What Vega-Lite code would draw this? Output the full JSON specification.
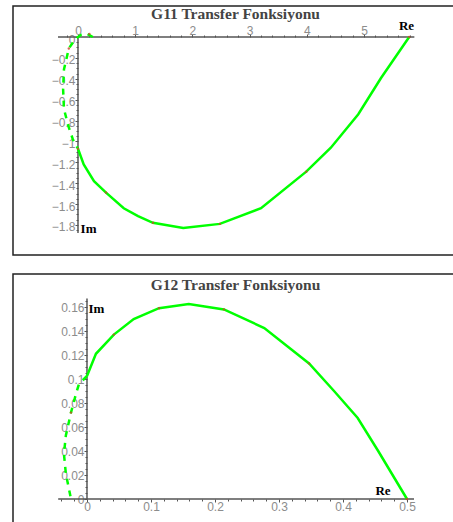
{
  "$schema": "https://vega.github.io/schema/vega-lite/v6.json",
  "padding": {"left": 12, "top": 5, "right": 0, "bottom": 0},
  "bounds": "flush",
  "spacing": 19,
  "config": {
    "view": {"stroke": "#222222", "strokeWidth": 1.5},
    "axis": {"grid": false, "domain": false, "labelFont": "Liberation Sans", "labelFontSize": 12, "labelColor": "#8c8c8c", "tickColor": "#555555", "title": null, "labelOverlap": false, "labelBound": false, "labelFlush": false},
    "title": {"font": "Liberation Serif", "fontSize": 15.5, "fontWeight": "bold", "color": "#444444", "anchor": "middle", "baseline": "alphabetic", "frame": "group"}
  },
  "vconcat": [
    {
      "width": 445,
      "height": 249,
      "title": {"text": "G11 Transfer Fonksiyonu", "offset": -16},
      "data": {"values": [
        {"part": "solid", "o": 1, "re": 0, "im": -1.07},
        {"part": "solid", "o": 2, "re": 0.10, "im": -1.22},
        {"part": "solid", "o": 3, "re": 0.28, "im": -1.38},
        {"part": "solid", "o": 4, "re": 0.49, "im": -1.49},
        {"part": "solid", "o": 5, "re": 0.80, "im": -1.64},
        {"part": "solid", "o": 6, "re": 1.05, "im": -1.715},
        {"part": "solid", "o": 7, "re": 1.31, "im": -1.78},
        {"part": "solid", "o": 8, "re": 1.84, "im": -1.83},
        {"part": "solid", "o": 9, "re": 2.48, "im": -1.79},
        {"part": "solid", "o": 10, "re": 3.20, "im": -1.64},
        {"part": "solid", "o": 11, "re": 3.99, "im": -1.29},
        {"part": "solid", "o": 12, "re": 4.42, "im": -1.06},
        {"part": "solid", "o": 13, "re": 4.90, "im": -0.74},
        {"part": "solid", "o": 14, "re": 5.30, "im": -0.39},
        {"part": "solid", "o": 15, "re": 5.79, "im": 0},
        {"part": "dashed", "o": 1, "re": 0.26, "im": 0},
        {"part": "dashed", "o": 2, "re": 0.16, "im": 0.03},
        {"part": "dashed", "o": 3, "re": 0.05, "im": 0.02},
        {"part": "dashed", "o": 4, "re": -0.05, "im": -0.02},
        {"part": "dashed", "o": 5, "re": -0.16, "im": -0.11},
        {"part": "dashed", "o": 6, "re": -0.245, "im": -0.31},
        {"part": "dashed", "o": 7, "re": -0.26, "im": -0.50},
        {"part": "dashed", "o": 8, "re": -0.245, "im": -0.69},
        {"part": "dashed", "o": 9, "re": -0.17, "im": -0.85},
        {"part": "dashed", "o": 10, "re": -0.09, "im": -0.98},
        {"part": "dashed", "o": 11, "re": 0, "im": -1.07},
        {"part": "dot", "re": 0.49, "im": -1.49},
        {"part": "dot", "re": 1.31, "im": -1.78},
        {"part": "dot", "re": 2.48, "im": -1.79},
        {"part": "dot", "re": 3.99, "im": -1.29},
        {"part": "dot", "re": 0, "im": -1.07},
        {"part": "dot", "re": 5.79, "im": 0},
        {"part": "dot", "re": -0.16, "im": -0.11},
        {"part": "dot", "re": 0.2, "im": 0.03},
        {"part": "hline", "re": -0.35, "re2": 5.88, "im": 0},
        {"part": "vline", "re": 0, "im": 0, "im2": -1.877},
        {"part": "label", "re": 5.743, "im": 0.105, "text": "Re"},
        {"part": "label", "re": 0.184, "im": -1.84, "text": "Im"}
      ]},
      "encoding": {
        "x": {"field": "re", "type": "quantitative",
          "scale": {"domain": [-1.136, 6.643], "nice": false, "zero": false},
          "axis": {"orient": "top", "offset": -31, "tickSize": {"condition": {"test": "abs(datum.value - round(datum.value)) < 1e-6", "value": 3}, "value": 2}, "labelPadding": 0, "labelBaseline": "alphabetic",
            "values": [-0.2,0,0.2,0.4,0.6,0.8,1,1.2,1.4,1.6,1.8,2,2.2,2.4,2.6,2.8,3,3.2,3.4,3.6,3.8,4,4.2,4.4,4.6,4.8,5,5.2,5.4,5.6,5.8],
            "format": "~g", "labelExpr": "abs(datum.value - round(datum.value)) < 1e-6 ? datum.label : ''"}},
        "y": {"field": "im", "type": "quantitative",
          "scale": {"domain": [-2.088, 0.297], "nice": false, "zero": false},
          "axis": {"orient": "left", "offset": -65, "tickSize": {"condition": {"test": "abs(datum.value*5 - round(datum.value*5)) < 1e-6", "value": 3}, "value": 2}, "labelPadding": 0, "labelOffset": 2,
            "values": [0,-0.05,-0.1,-0.15,-0.2,-0.25,-0.3,-0.35,-0.4,-0.45,-0.5,-0.55,-0.6,-0.65,-0.7,-0.75,-0.8,-0.85,-0.9,-0.95,-1,-1.05,-1.1,-1.15,-1.2,-1.25,-1.3,-1.35,-1.4,-1.45,-1.5,-1.55,-1.6,-1.65,-1.7,-1.75,-1.8,-1.85],
            "format": "~g", "labelExpr": "abs(datum.value*5 - round(datum.value*5)) < 1e-6 ? datum.label : ''"}}
      },
      "layer": [
        {"transform": [{"filter": "datum.part == 'hline'"}], "mark": {"type": "rule", "color": "#555555", "strokeWidth": 1.5}, "encoding": {"x2": {"field": "re2"}}},
        {"transform": [{"filter": "datum.part == 'vline'"}], "mark": {"type": "rule", "color": "#555555", "strokeWidth": 1.5}, "encoding": {"y2": {"field": "im2"}}},
        {"transform": [{"filter": "datum.part == 'solid'"}], "mark": {"type": "line", "color": "#00ff00", "strokeWidth": 2.5}, "encoding": {"order": {"field": "o"}}},
        {"transform": [{"filter": "datum.part == 'dashed'"}], "mark": {"type": "line", "color": "#00ff00", "strokeWidth": 2.5, "strokeDash": [6, 6]}, "encoding": {"order": {"field": "o"}}},
        {"transform": [{"filter": "datum.part == 'dot'"}], "mark": {"type": "point", "filled": true, "color": "#c84a2a", "size": 6, "opacity": 0.8}},
        {"transform": [{"filter": "datum.part == 'label'"}], "mark": {"type": "text", "font": "Liberation Serif", "fontSize": 13, "fontWeight": "bold", "color": "#000000", "align": "center", "baseline": "middle"}, "encoding": {"text": {"field": "text"}}}
      ]
    },
    {
      "width": 445,
      "height": 255,
      "title": {"text": "G12 Transfer Fonksiyonu", "offset": -19},
      "data": {"values": [
        {"part": "solid", "o": 1, "re": 0, "im": 0.1025},
        {"part": "solid", "o": 2, "re": 0.014, "im": 0.121},
        {"part": "solid", "o": 3, "re": 0.042, "im": 0.137},
        {"part": "solid", "o": 4, "re": 0.073, "im": 0.150},
        {"part": "solid", "o": 5, "re": 0.1125, "im": 0.159},
        {"part": "solid", "o": 6, "re": 0.159, "im": 0.1625},
        {"part": "solid", "o": 7, "re": 0.214, "im": 0.158},
        {"part": "solid", "o": 8, "re": 0.277, "im": 0.1425},
        {"part": "solid", "o": 9, "re": 0.347, "im": 0.113},
        {"part": "solid", "o": 10, "re": 0.386, "im": 0.09},
        {"part": "solid", "o": 11, "re": 0.423, "im": 0.0675},
        {"part": "solid", "o": 12, "re": 0.455, "im": 0.04},
        {"part": "solid", "o": 13, "re": 0.50, "im": 0},
        {"part": "dashed", "o": 1, "re": 0, "im": 0.1025},
        {"part": "dashed", "o": 2, "re": -0.0125, "im": 0.0958},
        {"part": "dashed", "o": 3, "re": -0.017, "im": 0.088},
        {"part": "dashed", "o": 4, "re": -0.025, "im": 0.072},
        {"part": "dashed", "o": 5, "re": -0.033, "im": 0.053},
        {"part": "dashed", "o": 6, "re": -0.036, "im": 0.0375},
        {"part": "dashed", "o": 7, "re": -0.033, "im": 0.021},
        {"part": "dashed", "o": 8, "re": -0.025, "im": 0},
        {"part": "dot", "re": 0.042, "im": 0.137},
        {"part": "dot", "re": 0.1125, "im": 0.159},
        {"part": "dot", "re": 0.214, "im": 0.158},
        {"part": "dot", "re": 0.347, "im": 0.113},
        {"part": "dot", "re": 0.50, "im": 0},
        {"part": "dot", "re": -0.025, "im": 0.072},
        {"part": "hline", "re": -0.045, "re2": 0.511, "im": 0},
        {"part": "vline", "re": 0, "im": 0, "im2": 0.167},
        {"part": "label", "re": 0.0148, "im": 0.158, "text": "Im"},
        {"part": "label", "re": 0.4625, "im": 0.0067, "text": "Re"}
      ]},
      "encoding": {
        "x": {"field": "re", "type": "quantitative",
          "scale": {"domain": [-0.1156, 0.5797], "nice": false, "zero": false},
          "axis": {"orient": "bottom", "offset": -30, "tickSize": {"condition": {"test": "abs(datum.value*10 - round(datum.value*10)) < 1e-6", "value": 3}, "value": 2}, "labelPadding": -1,
            "values": [-0.04,-0.02,0,0.02,0.04,0.06,0.08,0.1,0.12,0.14,0.16,0.18,0.2,0.22,0.24,0.26,0.28,0.3,0.32,0.34,0.36,0.38,0.4,0.42,0.44,0.46,0.48,0.5],
            "format": "~g", "labelExpr": "abs(datum.value*10 - round(datum.value*10)) < 1e-6 ? datum.label : ''"}},
        "y": {"field": "im", "type": "quantitative",
          "scale": {"domain": [-0.025, 0.1875], "nice": false, "zero": false},
          "axis": {"orient": "left", "offset": -74, "tickSize": {"condition": {"test": "abs(datum.value*50 - round(datum.value*50)) < 1e-6", "value": 3}, "value": 2}, "labelPadding": 0,
            "values": [0,0.005,0.01,0.015,0.02,0.025,0.03,0.035,0.04,0.045,0.05,0.055,0.06,0.065,0.07,0.075,0.08,0.085,0.09,0.095,0.1,0.105,0.11,0.115,0.12,0.125,0.13,0.135,0.14,0.145,0.15,0.155,0.16,0.165],
            "format": "~g", "labelExpr": "abs(datum.value*50 - round(datum.value*50)) < 1e-6 ? datum.label : ''"}}
      },
      "layer": [
        {"transform": [{"filter": "datum.part == 'hline'"}], "mark": {"type": "rule", "color": "#555555", "strokeWidth": 1.5}, "encoding": {"x2": {"field": "re2"}}},
        {"transform": [{"filter": "datum.part == 'vline'"}], "mark": {"type": "rule", "color": "#555555", "strokeWidth": 1.5}, "encoding": {"y2": {"field": "im2"}}},
        {"transform": [{"filter": "datum.part == 'solid'"}], "mark": {"type": "line", "color": "#00ff00", "strokeWidth": 2.5}, "encoding": {"order": {"field": "o"}}},
        {"transform": [{"filter": "datum.part == 'dashed'"}], "mark": {"type": "line", "color": "#00ff00", "strokeWidth": 2.5, "strokeDash": [6, 6]}, "encoding": {"order": {"field": "o"}}},
        {"transform": [{"filter": "datum.part == 'dot'"}], "mark": {"type": "point", "filled": true, "color": "#c84a2a", "size": 6, "opacity": 0.8}},
        {"transform": [{"filter": "datum.part == 'label'"}], "mark": {"type": "text", "font": "Liberation Serif", "fontSize": 13, "fontWeight": "bold", "color": "#000000", "align": "center", "baseline": "middle"}, "encoding": {"text": {"field": "text"}}}
      ]
    }
  ]
}
